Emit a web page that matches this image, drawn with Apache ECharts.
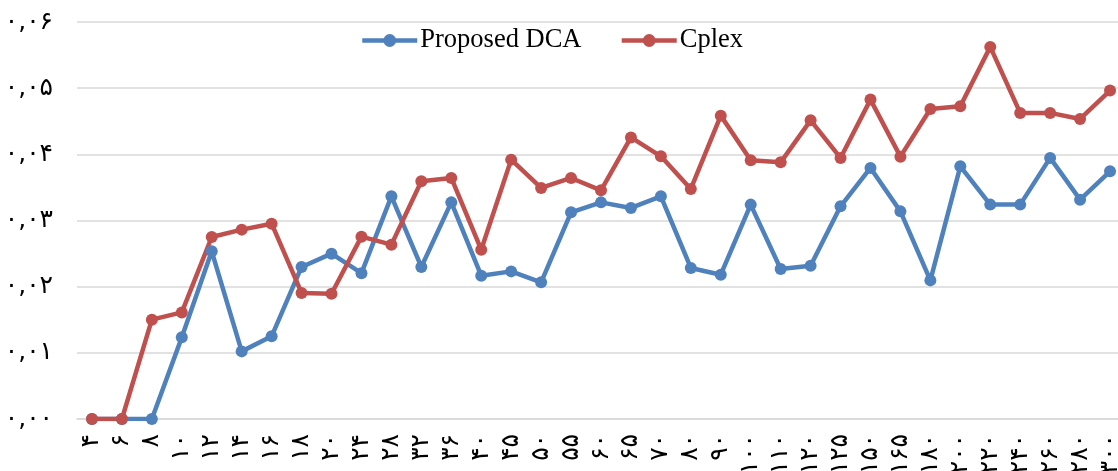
<!DOCTYPE html>
<html>
<head>
<meta charset="utf-8">
<script src="https://cdn.jsdelivr.net/npm/echarts@6/dist/echarts.min.js"></script>
<style>html,body{margin:0;padding:0;background:#fff;}#c{width:1118px;height:471px;}</style>
</head>
<body>
<div id="c"></div>
<script>
var categories = ['۴','۶','۸','۱۰','۱۲','۱۴','۱۶','۱۸','۲۰','۲۴','۲۸','۳۲','۳۶','۴۰','۴۵','۵۰','۵۵','۶۰','۶۵','۷۰','۸۰','۹۰','۱۰۰','۱۱۰','۱۲۰','۱۲۵','۱۵۰','۱۶۵','۱۸۰','۲۰۰','۲۲۰','۲۴۰','۲۶۰','۲۸۰','۳۰۰'];
var proposedDCA = [0, 0, 0, 0.01234, 0.02534, 0.01022, 0.01249, 0.02298, 0.02499, 0.02204, 0.03365, 0.02298, 0.03274, 0.02166, 0.02231, 0.02065, 0.03123, 0.03274, 0.0319, 0.03365, 0.02283, 0.02181, 0.0324, 0.02268, 0.02317, 0.03214, 0.03794, 0.03138, 0.02095, 0.03819, 0.0324, 0.0324, 0.03946, 0.03315, 0.03743];
var cplex = [0, 0, 0.01501, 0.01611, 0.02751, 0.02862, 0.02952, 0.01905, 0.01894, 0.02756, 0.02635, 0.03592, 0.03643, 0.02559, 0.0392, 0.03492, 0.03643, 0.03456, 0.04255, 0.0397, 0.03477, 0.04585, 0.03909, 0.03879, 0.04514, 0.03946, 0.04827, 0.03965, 0.04686, 0.04726, 0.05624, 0.04626, 0.04626, 0.04535, 0.04963];
var yTickLabels = ['۰,۰۰','۰,۰۱','۰,۰۲','۰,۰۳','۰,۰۴','۰,۰۵','۰,۰۶'];

var serif = "'Times New Roman', 'Liberation Serif', 'DejaVu Serif', serif";
var digitFont = "'DejaVu Sans', sans-serif";
var chart = echarts.init(document.getElementById('c'), null, {renderer: 'canvas'});
chart.setOption({
  animation: false,
  backgroundColor: '#ffffff',
  legend: {
    left: 360, top: 27, padding: 0,
    itemWidth: 55, itemHeight: 16, itemGap: 38,
    itemStyle: {borderWidth: 0},
    lineStyle: {width: 4.5},
    textStyle: {fontFamily: serif, fontSize: 26.5, color: '#000', padding: [0, 0, 0, -2]},
    data: ['Proposed DCA', 'Cplex']
  },
  grid: {left: 77, right: -7, top: 22, bottom: 52, containLabel: false, outerBoundsMode: 'none'},
  xAxis: {
    type: 'category',
    data: categories,
    boundaryGap: true,
    axisLine: {show: true, lineStyle: {color: '#d9d9d9', width: 1.5}},
    axisTick: {show: false},
    axisLabel: {rotate: 90, interval: 0, margin: 15, fontFamily: digitFont, fontSize: 25, color: '#000'}
  },
  yAxis: {
    type: 'value',
    min: 0, max: 0.06, interval: 0.01,
    axisLine: {show: false},
    axisTick: {show: false},
    splitLine: {lineStyle: {color: '#d9d9d9', width: 1.5}},
    axisLabel: {
      margin: 24, fontFamily: digitFont, fontSize: 25, color: '#000',
      formatter: function (v) { return yTickLabels[Math.round(v * 100)]; }
    }
  },
  series: [
    {name: 'Proposed DCA', type: 'line', data: proposedDCA, symbol: 'circle', symbolSize: 12,
     itemStyle: {color: '#4F81BD'}, lineStyle: {color: '#4F81BD', width: 4.5}},
    {name: 'Cplex', type: 'line', data: cplex, symbol: 'circle', symbolSize: 12,
     itemStyle: {color: '#C0504D'}, lineStyle: {color: '#C0504D', width: 4.5}}
  ]
});
</script>
</body>
</html>
